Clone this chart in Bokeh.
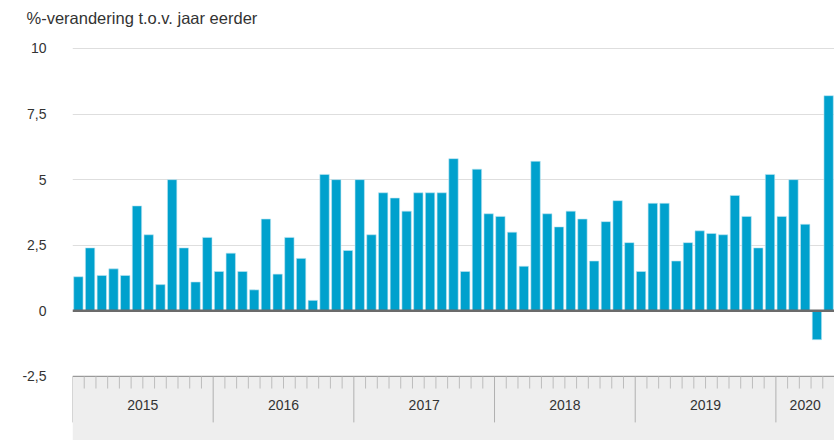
from bokeh.plotting import figure
from bokeh.models import Range1d, FixedTicker, CustomJSTickFormatter, Span, Title
from bokeh.core.properties import value
from bokeh.embed import file_html
from bokeh.resources import INLINE

# ---- data ----
title_text = "%-verandering t.o.v. jaar eerder"
years = ["2015", "2016", "2017", "2018", "2019", "2020"]
months_per_year = [12, 12, 12, 12, 12, 5]
values_2015 = [1.3, 2.4, 1.35, 1.6, 1.35, 4.0, 2.9, 1.0, 5.0, 2.4, 1.1, 2.8]
values_2016 = [1.5, 2.2, 1.5, 0.8, 3.5, 1.4, 2.8, 2.0, 0.4, 5.2, 5.0, 2.3]
values_2017 = [5.0, 2.9, 4.5, 4.3, 3.8, 4.5, 4.5, 4.5, 5.8, 1.5, 5.4, 3.7]
values_2018 = [3.6, 3.0, 1.7, 5.7, 3.7, 3.2, 3.8, 3.5, 1.9, 3.4, 4.2, 2.6]
values_2019 = [1.5, 4.1, 4.1, 1.9, 2.6, 3.05, 2.95, 2.9, 4.4, 3.6, 2.4, 5.2]
values_2020 = [3.6, 5.0, 3.3, -1.1, 8.2]
y_ticks = [-2.5, 0, 2.5, 5, 7.5, 10]

values = values_2015 + values_2016 + values_2017 + values_2018 + values_2019 + values_2020
n = len(values)
x_centers = [i + 0.5 for i in range(n)]

# layout constants
y_top = 10.15
y_bottom = -4.94
axis_base = y_ticks[0]

p = figure(width=834, height=440, output_backend="svg", toolbar_location=None,
           x_range=Range1d(0, n), y_range=Range1d(y_bottom, y_top),
           x_axis_location=None, min_border_left=72, min_border_right=0,
           min_border_top=44, min_border_bottom=0)
p.outline_line_color = None
p.background_fill_color = "white"
p.border_fill_color = "white"

# title
p.title.text = title_text
p.title.align = "left"
p.title.vertical_align = "top"
p.title.offset = -46
p.title.standoff = 17
p.title.text_font = "Liberation Sans"
p.title.text_font_size = "16.5px"
p.title.text_font_style = "normal"
p.title.text_color = "#333333"

# spacer between title and frame
p.add_layout(Title(text=" ", text_font_size="1px", standoff=4), "above")

# y axis
p.yaxis.ticker = FixedTicker(ticks=y_ticks)
p.yaxis.formatter = CustomJSTickFormatter(code="return tick.toString().replace('.', ',');")
p.yaxis.axis_line_color = None
p.yaxis.major_tick_line_color = None
p.yaxis.minor_tick_line_color = None
p.yaxis.major_label_text_font = "Liberation Sans"
p.yaxis.major_label_text_font_size = "14px"
p.yaxis.major_label_text_color = "#333333"
p.yaxis.major_label_standoff = 20

p.ygrid.ticker = FixedTicker(ticks=[t for t in y_ticks if t > 0])
p.ygrid.grid_line_color = "#dedede"
p.xgrid.visible = False

# bars
p.vbar(x=x_centers, top=values, bottom=0, width=0.8, fill_color="#00a1cd",
       line_color="#bfe6f2", line_width=0.6)

# zero line
p.add_layout(Span(location=0, dimension="width", line_color="#6b6b6b", line_width=2.5))

# bottom band
p.quad(left=[0], right=[n], bottom=[y_bottom], top=[axis_base], fill_color="#eeeeee", line_color=None)
p.segment(x0=[0], x1=[n], y0=[axis_base], y1=[axis_base], line_color="#9a9a9a", line_width=1.2)

# ticks
bounds = [0]
for c in months_per_year:
    bounds.append(bounds[-1] + c)
year_bounds = bounds[:-1]
month_ticks = [m for m in range(1, n + 1) if m not in bounds]
p.segment(x0=month_ticks, x1=month_ticks, y0=[axis_base] * len(month_ticks),
          y1=[axis_base - 0.46] * len(month_ticks), line_color="#bdbdbd", line_width=1)
p.segment(x0=year_bounds, x1=year_bounds, y0=[axis_base] * len(year_bounds),
          y1=[axis_base - 1.75] * len(year_bounds), line_color="#b0b0b0", line_width=1)

year_centers = [(bounds[i] + bounds[i + 1]) / 2 for i in range(len(years))]
p.text(x=year_centers, y=[axis_base - 1.07] * len(years), text=years,
       text_align="center", text_baseline="middle", text_font=value("Liberation Sans"),
       text_font_size="14px", text_color="#333333")

open("out.html", "w").write(file_html(p, INLINE))
